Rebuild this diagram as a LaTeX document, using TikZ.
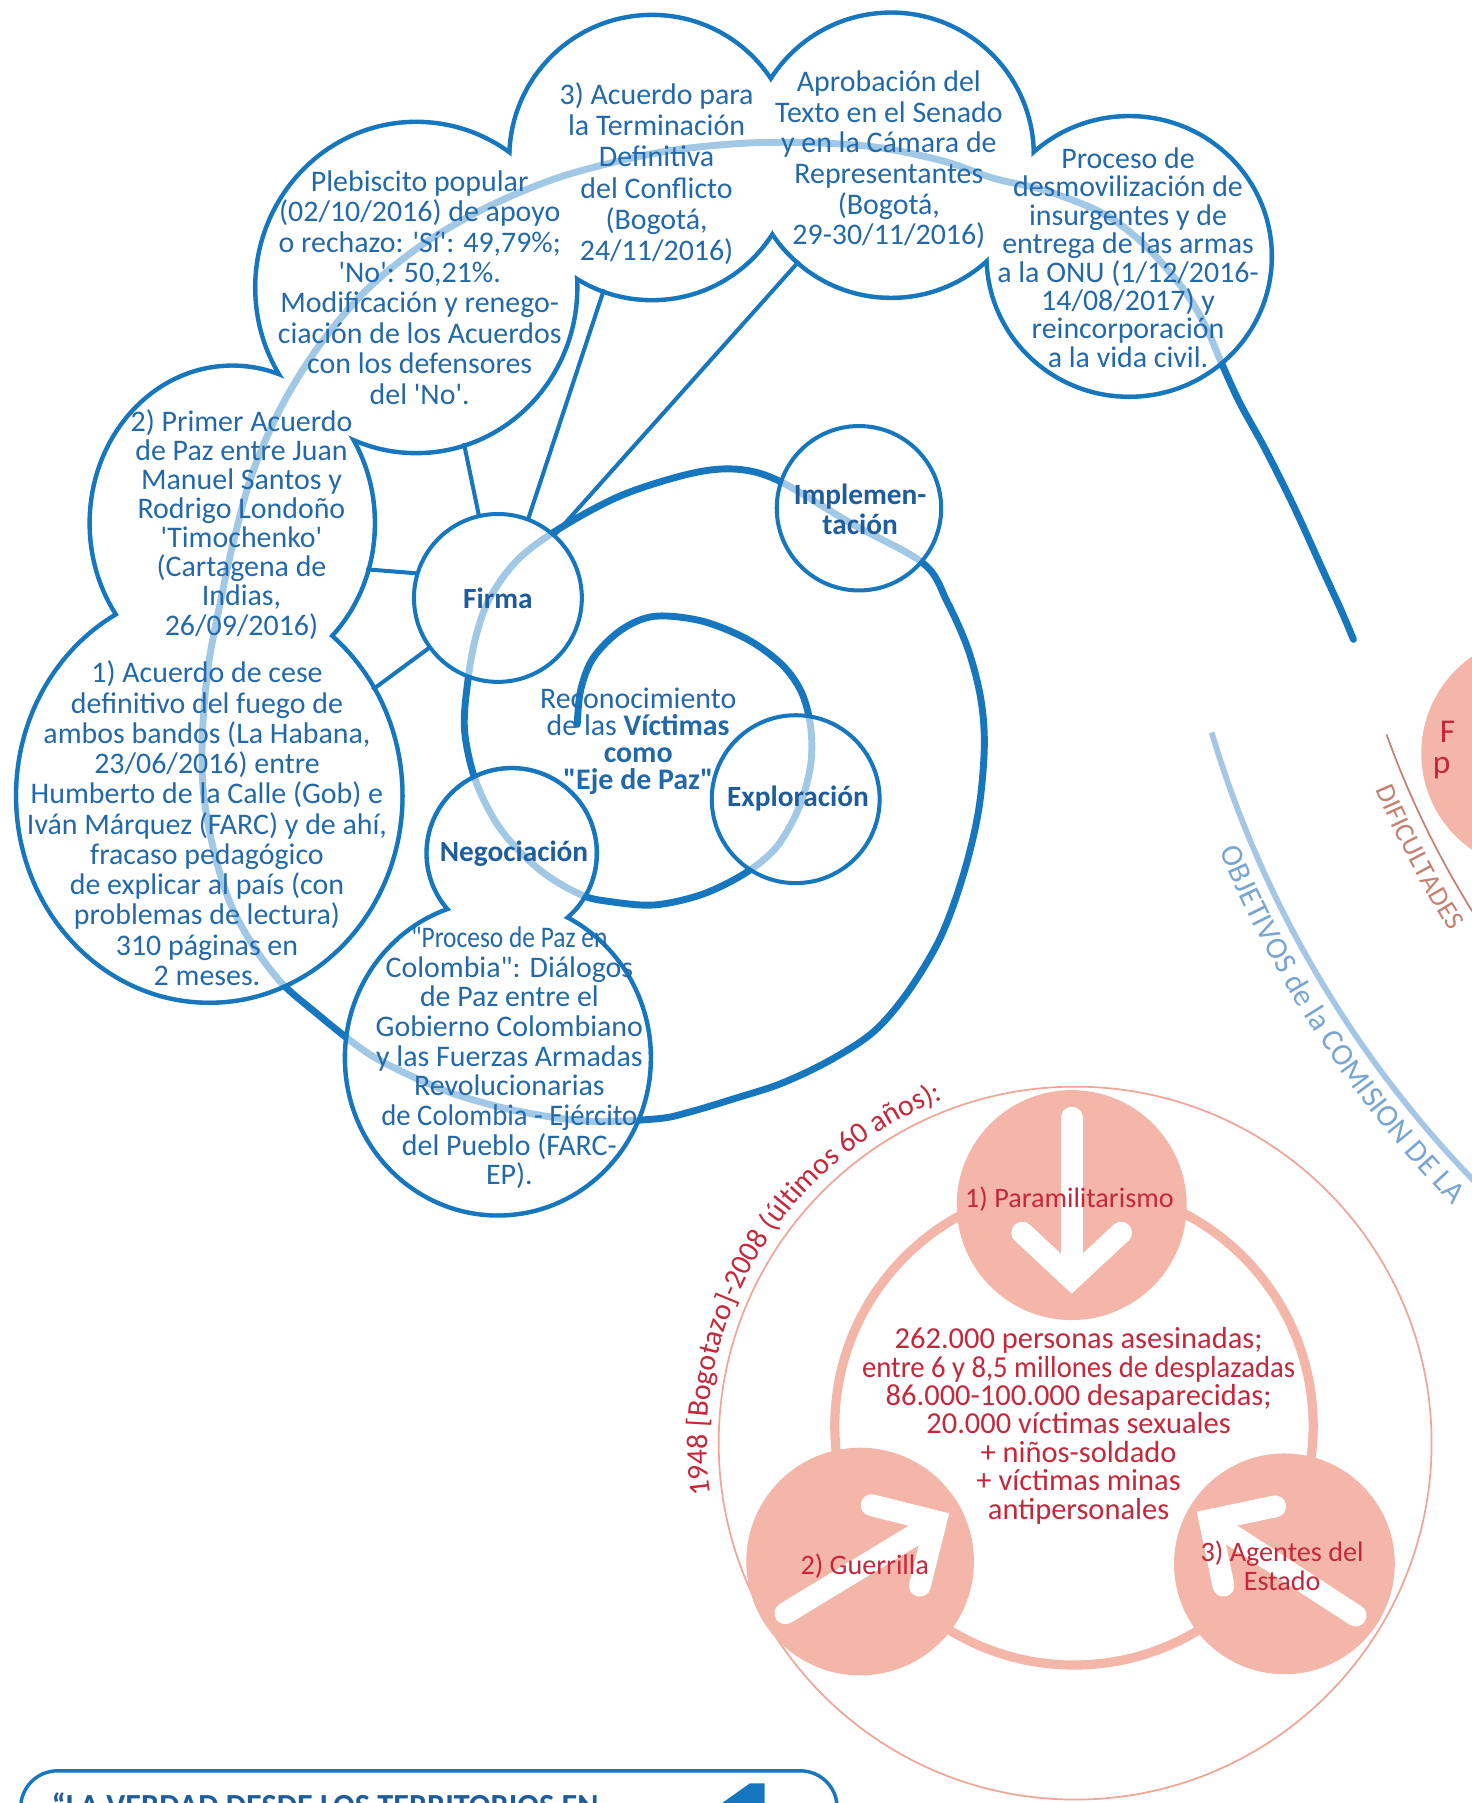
\documentclass[tikz,border=0pt]{standalone}
\usepackage{fontspec}
\setmainfont{Carlito}
\usetikzlibrary{shapes.geometric,decorations.text}
\definecolor{cblue}{RGB}{22,118,190}
\definecolor{tblue}{RGB}{35,105,170}
\definecolor{tbold}{RGB}{30,92,155}
\definecolor{lblue}{RGB}{165,198,228}
\definecolor{lbtext}{RGB}{120,165,210}
\definecolor{salmon}{RGB}{243,182,168}
\definecolor{dred}{RGB}{196,40,58}
\definecolor{pinkline}{RGB}{240,165,150}
\definecolor{difc}{RGB}{196,128,112}
\newcommand{\myq}{\textquotesingle}
\newcommand{\myqq}{\textquotedbl}
\begin{document}
\begin{tikzpicture}[x=1pt,y=-1pt,
  txt/.style={text=tblue, align=center, font=\fontsize{26}{26}\selectfont, inner sep=0pt},
  btxt/.style={text=tbold, align=center, font=\fontsize{25.5}{26}\selectfont\bfseries, inner sep=0pt},
  rtxt/.style={text=dred, align=center, font=\fontsize{24.5}{25}\selectfont, inner sep=0pt},
  shp/.style={inner sep=0pt, outer sep=0pt},
  conn/.style={draw=cblue, line width=3.5},
  ringnode/.style={draw=cblue, line width=3.5, fill=white, fill opacity=.6, text opacity=1, circle, inner sep=0pt, outer sep=0pt},
  spiral/.style={draw=cblue, line width=6, line cap=round},
  warrow/.style={draw=white, line width=19, line cap=round, line join=miter},
  disc/.style={circle, fill=salmon, inner sep=0pt, outer sep=0pt},
]
\useasboundingbox (0,0) rectangle (1280,1568);
\clip (0,0) rectangle (1280,1568);
\fill[white] (0,0) rectangle (1280,1568);

\def\cloudA{A/182/692/166/178, B/202/455/122/135, C/362/250/138/142, D/567/137/122/122, E/775/135/122/122, F/982/223/122/120}
\def\cloudB{N/445/742/72/72, P/433/920/131/135}

% ---------- right-hand arcs ----------
\draw[lblue, line width=5] ([shift={(163.4:952)}]1966,365) arc[start angle=163.4, end angle=128, radius=952];
\path[decorate, decoration={text along path, text color=lbtext, text={|\fontsize{27}{27}\selectfont|OBJETIVOS de la COMISION DE LA}}]
  ([shift={(157.5:980)}]1966,365) arc[start angle=157.5, end angle=122, radius=980];
\draw[difc, line width=1.5] ([shift={(160.2:808)}]1966,365) arc[start angle=160.2, end angle=140, radius=808];
\path[decorate, decoration={text along path, text color=difc, text={|\fontsize{24}{24}\selectfont|DIFICULTADES}}]
  ([shift={(157.3:834)}]1966,365) arc[start angle=157.3, end angle=136, radius=834];

% ---------- pink section ----------
\node[disc, minimum size=204] (d4) at (1338,655) {};
\node[text=dred, font=\fontsize{29}{29}\selectfont, anchor=west, inner sep=0pt] (d4a) at (1252,636) {F};
\node[text=dred, font=\fontsize{29}{29}\selectfont, anchor=west, inner sep=0pt] (d4b) at (1246,668) {p};

\node[circle, draw=pinkline, line width=1.5, minimum size=620, inner sep=0pt] (outer) at (935,1255) {};
\path[decorate, decoration={text along path, text color=dred, text={|\fontsize{26}{26}\selectfont|1948 [Bogotazo]-2008 (últimos 60 años):}}]
  ([shift={(172:320)}]935,1255) arc[start angle=172, end angle=268, radius=320];
\node[circle, draw=salmon, line width=8, minimum size=416, inner sep=0pt] (ring) at (934,1240) {};
\node[disc, minimum size=200] (d1) at (932,1048) {};
\node[disc, minimum size=198] (d2) at (748,1358) {};
\node[disc, minimum size=192] (d3) at (1117,1360) {};
\draw[warrow] (932,972) -- (932,1108);
\draw[warrow] (889,1072) -- (932,1112) -- (975,1072);
\draw[warrow] (683,1403) -- (810,1326);
\draw[warrow] (758,1309) -- (814,1323) -- (800,1379);
\draw[warrow] (1179,1405) -- (1056,1325);
\draw[warrow] (1109,1310) -- (1052,1322) -- (1064,1379);
\node[rtxt] (t1) at (930,1043) {1) Paramilitarismo};
\node[rtxt] (t2) at (752,1362) {2) Guerrilla};
\node[rtxt] (t3) at (1115,1362) {3) Agentes del\\Estado};
\node[rtxt, font=\fontsize{26.5}{24.7}\selectfont] (tc) at (938,1240) {262.000 personas asesinadas;\\\scalebox{.94}[1]{entre 6 y 8,5 millones de desplazadas}\\86.000-100.000 desaparecidas;\\20.000 víctimas sexuales\\+ niños-soldado\\+ víctimas minas\\antipersonales};

% ---------- clouds: outline of union ----------
\foreach \n/\x/\y/\rx/\ry in \cloudA {\draw[cblue, line width=8] (\x,\y) ellipse [x radius=\rx, y radius=\ry];}
\foreach \n/\x/\y/\rx/\ry in \cloudB {\draw[cblue, line width=8] (\x,\y) ellipse [x radius=\rx, y radius=\ry];}
\foreach \n/\x/\y/\rx/\ry in \cloudA {\fill[white] (\x,\y) ellipse [x radius=\rx, y radius=\ry];
  \node[shp, ellipse, minimum width=2*\rx, minimum height=2*\ry] (\n) at (\x,\y) {};}
\foreach \n/\x/\y/\rx/\ry in \cloudB {\fill[white] (\x,\y) ellipse [x radius=\rx, y radius=\ry];
  \node[shp, ellipse, minimum width=2*\rx, minimum height=2*\ry] (\n) at (\x,\y) {};}

% ---------- spiral ----------
\draw[spiral] plot[smooth, tension=0.55] coordinates {
 (502,630) (505,600) (516,572) (540,548) (569,536) (610,540) (650,556) (680,578) (697,602) (705,632)
 (705,665) (695,702) (675,737) (647,760) (610,778) (569,787) (530,784) (505,778) (470,757) (436,722)
 (414,680) (404,635) (407,591) (414,553) (426,520) (450,487) (486,460) (540,431) (600,412) (640,408)
 (677,418) (740,455) (803,490) (824,524) (842,565) (853,608) (856,650) (851,705) (838,760) (818,815)
 (790,862) (760,897) (722,922) (680,942) (640,955) (600,967) (571,973) (510,975) (449,966) (400,953)
 (367,940) (330,922) (306,906) (275,881) (245,855) (220,822) (200,785) (186,740) (177,690) (176,640)
 (181,580) (192,522) (204,467) (220,410) (245,353) (278,300) (318,253) (367,213) (424,180) (490,153)
 (571,133) (640,125) (700,124) (762,128) (820,140) (864,155) (910,166) (958,185) (990,208)
 (1015,234) (1035,260) (1050,287) (1062,315) (1078,350) (1100,390) (1125,440) (1150,495)
 (1166,530) (1177,556)};

% ---------- translucent fills over the spiral ----------
\fill[white, opacity=.6] foreach \n/\x/\y/\rx/\ry in \cloudA {(\x,\y) ellipse [x radius=\rx, y radius=\ry]};
\fill[white, opacity=.6] foreach \n/\x/\y/\rx/\ry in \cloudB {(\x,\y) ellipse [x radius=\rx, y radius=\ry]};
\node[ringnode, minimum size=146] (firma) at (433,520) {};
\node[ringnode, minimum size=143] (impl) at (747,442) {};
\node[ringnode, minimum size=146] (expl) at (692,695) {};

% ---------- connectors ----------
\draw[conn] (firma.216) -- (A.33);
\draw[conn] (firma.163) -- (B.-19);
\draw[conn] (firma.103) -- (C.-73);
\draw[conn] (firma.69) -- (D.-110);
\draw[conn] (firma.48) -- (E.-131);

% ---------- texts ----------
\node[btxt] (tfirma) at (firma) {Firma};
\node[btxt] (timpl) at (748,443) {Implemen-\\tación};
\node[btxt] (texpl) at (694,694) {Exploración};
\node[btxt] (tneg) at (447,742) {Negociación};
\node[txt, font=\fontsize{26}{23.5}\selectfont] (trec) at (555,645) {Reconocimiento\\de las \textbf{Víctimas}\\\textbf{como}\\\textbf{\myqq Eje de Paz\myqq}};

\node[txt, font=\fontsize{26}{26.3}\selectfont] (tA) at (180,716) {1) Acuerdo de cese\\definitivo del fuego de\\ambos bandos (La Habana,\\23/06/2016) entre\\Humberto de la Calle (Gob) e\\Iván Márquez (FARC) y de ahí,\\fracaso pedagógico\\de explicar al país (con\\problemas de lectura)\\310 páginas en\\2 meses.};
\node[txt, font=\fontsize{26}{25.3}\selectfont] (tB) at (210,456) {2) Primer Acuerdo\\de Paz entre Juan\\Manuel Santos y\\Rodrigo Londoño\\\myq Timochenko\myq\\(Cartagena de\\Indias,\\26/09/2016)};
\node[txt, font=\fontsize{26}{26.5}\selectfont] (tC) at (365,250) {Plebiscito popular\\(02/10/2016) de apoyo\\o rechazo: \myq Sí\myq: 49,79\%;\\\myq No\myq: 50,21\%.\\Modificación y renego-\\ciación de los Acuerdos\\con los defensores\\del \myq No\myq.};
\node[txt, font=\fontsize{26}{27}\selectfont] (tD) at (571,151) {3) Acuerdo para\\la Terminación\\Definitiva\\del Conflicto\\(Bogotá,\\24/11/2016)};
\node[txt, font=\fontsize{26}{26.6}\selectfont] (tE) at (773,139) {Aprobación del\\Texto en el Senado\\y en la Cámara de\\Representantes\\(Bogotá,\\29-30/11/2016)};
\node[txt, font=\fontsize{26}{24.7}\selectfont] (tF) at (981,224) {Proceso de\\desmovilización de\\insurgentes y de\\entrega de las armas\\a la ONU (1/12/2016-\\14/08/2017) y\\reincorporación\\a la vida civil.};
\node[txt, font=\fontsize{26}{25.8}\selectfont] (tP) at (443,920) {\scalebox{.85}[1]{\myqq Proceso de Paz en}\\Colombia\myqq: Diálogos\\de Paz entre el\\Gobierno Colombiano\\y las Fuerzas Armadas\\Revolucionarias\\\scalebox{.96}[1]{de Colombia - Ejército}\\del Pueblo (FARC-\\EP).};

% ---------- bottom box ----------
\draw[cblue, line width=3, rounded corners=32] (18,1600) -- (18,1540) -- (728,1540) -- (728,1600);
\node[anchor=base west, text=tbold, font=\fontsize{28}{28}\selectfont\bfseries, inner sep=0pt] (title) at (45,1580) {“LA VERDAD DESDE LOS TERRITORIOS EN};
\fill[cblue] (628,1568) -- (652,1551) -- (665,1551) -- (665,1568) -- cycle;
\end{tikzpicture}
\end{document}
